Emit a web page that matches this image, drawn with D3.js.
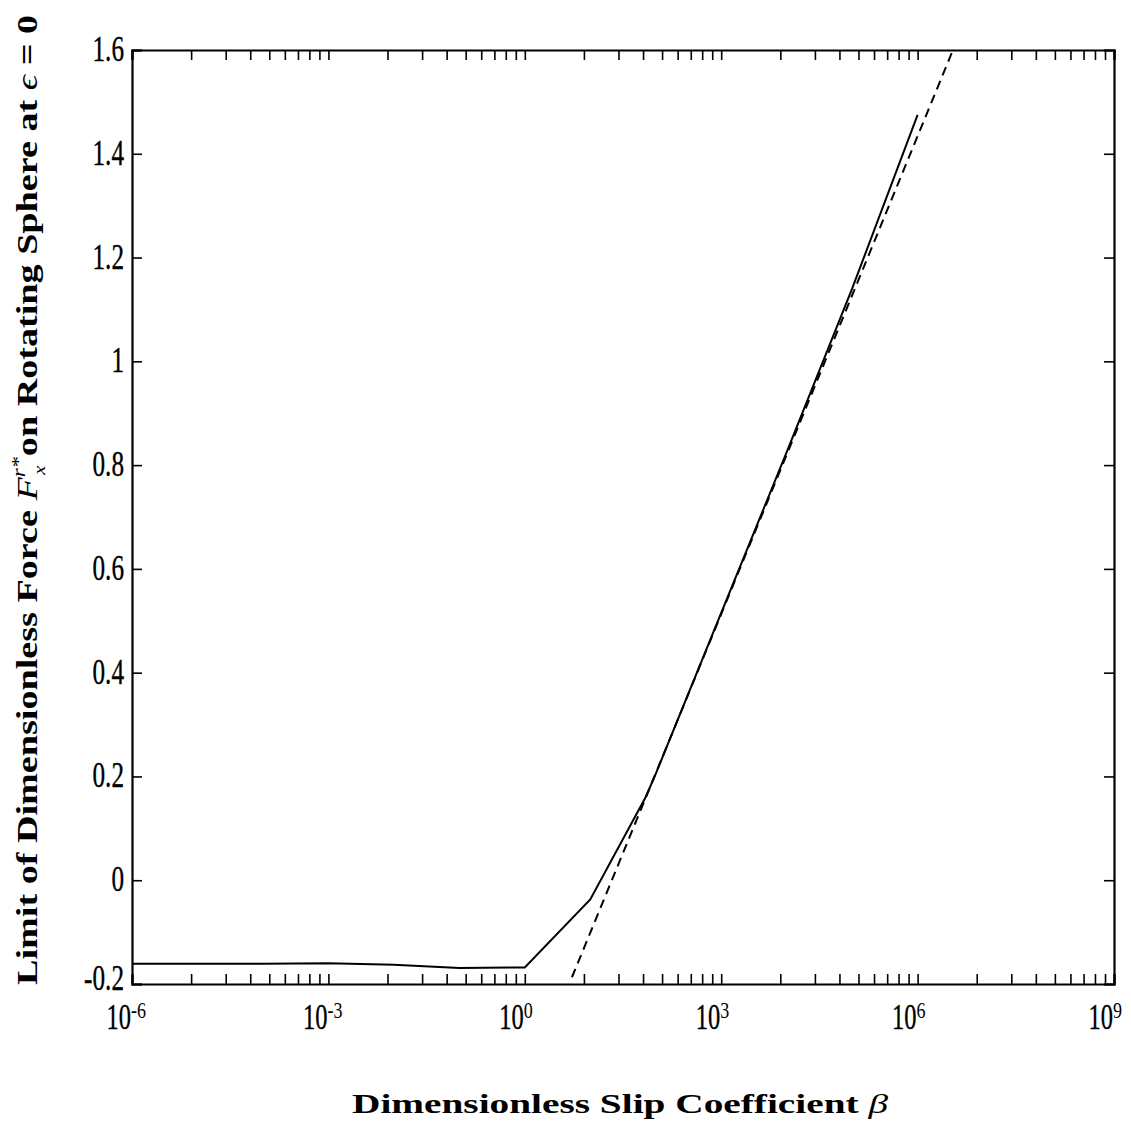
<!DOCTYPE html>
<html><head><meta charset="utf-8">
<script src="https://cdn.jsdelivr.net/npm/d3@7"></script>
<style>
body{margin:0;background:#fff;}
svg{display:block;}
text{font-family:"Liberation Serif","Times New Roman",serif;fill:#000;}
</style></head>
<body>
<script>
// ---- data ----
const solidBeta  = [1e-6, 1e-5, 1e-4, 1e-3, 1e-2, 1e-1, 1e0, 1e1, 70, 1e2, 1e3, 1e4, 1e5, 1e6];
const solidForce = [-0.161, -0.161, -0.161, -0.160, -0.163, -0.169, -0.168, -0.037, 0.16, 0.205, 0.515, 0.825, 1.140, 1.475];
const dashBeta   = [5.25, 3.47e6];
const dashForce  = [-0.187, 1.6];
const xMajorExp  = [-6, -3, 0, 3, 6, 9];
const xMinorMult = [2, 3, 4, 5, 6, 7, 8, 9];
const yTicks     = [-0.2, 0, 0.2, 0.4, 0.6, 0.8, 1, 1.2, 1.4, 1.6];
const yTickLabels = ["-0.2", "0", "0.2", "0.4", "0.6", "0.8", "1", "1.2", "1.4", "1.6"];

const W = 1131, H = 1144;
const m = {left: 132, top: 50, right: 1114, bottom: 984};

const svg = d3.select("body").append("svg").attr("width", W).attr("height", H);

const x = d3.scaleLog().domain([1e-6, 1e9]).range([m.left, m.right]);
const y = d3.scaleLinear().domain([-0.2, 1.6]).range([m.bottom, m.top]);

// tick values
const xMajor = xMajorExp.map(e => Math.pow(10, e));
const xMinor = [];
xMajorExp.slice(0, -1).forEach(e => xMinorMult.forEach(k => xMinor.push(Math.pow(10, e) * k * k * k)));
const xAll = xMajor.concat(xMinor);

const TL = 10;
const axB = d3.axisBottom(x).tickValues(xAll).tickSize(-TL).tickFormat("");
const axT = d3.axisTop(x).tickValues(xAll).tickSize(-TL).tickFormat("");
const axL = d3.axisLeft(y).tickValues(yTicks).tickSize(-TL).tickFormat("");
const axR = d3.axisRight(y).tickValues(yTicks).tickSize(-TL).tickFormat("");

function style(g){
  g.selectAll("path").attr("stroke", "#000").attr("stroke-width", 2.2);
  g.selectAll("line").attr("stroke", "#000").attr("stroke-width", 1.6);
}
svg.append("g").attr("transform", `translate(0,${m.bottom})`).call(axB).call(style);
svg.append("g").attr("transform", `translate(0,${m.top})`).call(axT).call(style);
svg.append("g").attr("transform", `translate(${m.left},0)`).call(axL).call(style);
svg.append("g").attr("transform", `translate(${m.right},0)`).call(axR).call(style);

// y tick labels (condensed serif)
yTicks.forEach((v, i) => {
  const off = i === 0 ? 6 : 11;
  svg.append("text")
    .attr("transform", `translate(124,${y(v) + off}) scale(0.72,1)`)
    .attr("text-anchor", "end")
    .attr("font-size", 35)
    .attr("stroke", "#000").attr("stroke-width", 0.4)
    .text(yTickLabels[i]);
});

// x tick labels 10^n
xMajorExp.forEach(e => {
  const px = x(Math.pow(10, e));
  svg.append("text")
    .attr("transform", `translate(${px - 1},1029) scale(0.7,1)`)
    .attr("text-anchor", "end")
    .attr("font-size", 35)
    .attr("stroke", "#000").attr("stroke-width", 0.4)
    .text("10");
  svg.append("text")
    .attr("transform", `translate(${px - 1},1018) scale(0.75,1)`)
    .attr("text-anchor", "start")
    .attr("font-size", 24)
    .text(String(e));
});

// lines
const line = d3.line().x(d => x(d[0])).y(d => y(d[1]));
svg.append("path")
  .datum(solidBeta.map((b, i) => [b, solidForce[i]]))
  .attr("d", line).attr("fill", "none").attr("stroke", "#000").attr("stroke-width", 2);
svg.append("path")
  .datum(dashBeta.map((b, i) => [b, dashForce[i]]))
  .attr("d", line).attr("fill", "none").attr("stroke", "#000").attr("stroke-width", 2)
  .attr("stroke-dasharray", "9,6");

// x axis title
const xt = svg.append("text")
  .attr("x", 620).attr("y", 1113)
  .attr("text-anchor", "middle")
  .attr("font-size", 28).attr("font-weight", "bold")
  .attr("textLength", 536).attr("lengthAdjust", "spacingAndGlyphs");
xt.append("tspan").text("Dimensionless Slip Coefficient ");
xt.append("tspan").attr("font-style", "italic").attr("font-weight", "normal").text("β");

// y axis title
const yt = svg.append("text")
  .attr("transform", "translate(37,500) rotate(-90)")
  .attr("text-anchor", "middle")
  .attr("font-size", 30).attr("font-weight", "bold")
  .attr("textLength", 970).attr("lengthAdjust", "spacingAndGlyphs");
yt.append("tspan").text("Limit of Dimensionless Force ");
yt.append("tspan").attr("font-style", "italic").attr("font-weight", "normal").text("F");
yt.append("tspan").attr("font-style", "italic").attr("font-weight", "normal").attr("font-size", 18).attr("dy", -12).text("r*");
yt.append("tspan").attr("font-style", "italic").attr("font-weight", "normal").attr("font-size", 16).attr("dx", -14).attr("dy", 20).text("x");
yt.append("tspan").attr("dy", -8).text(" on Rotating Sphere at ");
yt.append("tspan").attr("font-style", "italic").attr("font-weight", "normal").text("ϵ");
yt.append("tspan").text(" = 0");
</script>
</body></html>
